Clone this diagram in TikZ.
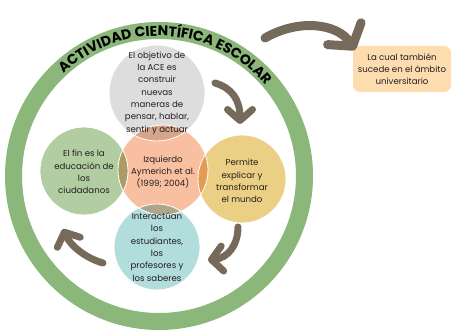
\documentclass[tikz,border=0pt]{standalone}
\usepackage{fontspec}
\setmainfont{Poppins}
\usetikzlibrary{arrows.meta,decorations.text}

\definecolor{ringgreen}{RGB}{139,183,122}
\definecolor{arrowbrown}{RGB}{118,106,90}
\definecolor{goalgray}{RGB}{221,221,221}
\definecolor{coresalmon}{RGB}{248,192,160}
\definecolor{endgreen}{RGB}{178,205,162}
\definecolor{worldyellow}{RGB}{235,207,133}
\definecolor{peopleblue}{RGB}{178,221,221}
\definecolor{notepeach}{RGB}{253,221,176}
\definecolor{txt}{RGB}{35,31,32}

\begin{document}
\begin{tikzpicture}[
  x=1pt,y=1pt,
  bubbletext/.style={inner sep=0pt,align=center,text=txt,
    font=\fontsize{8.6}{12.3}\selectfont},
  turn/.style={line width=7pt,line cap=round,draw=arrowbrown,
    -{Straight Barb[round,length=11pt,width=25pt]}},
  every path/.style={semithick}
]
\useasboundingbox (0,0) rectangle (455,336);
\coordinate (C) at (159,160);
\draw[ringgreen,line width=17pt] (C) circle[radius=145.5];
\path[decorate,decoration={text along path,text align=center,
    text={|\fontsize{14}{14}\bfseries\selectfont|ACTIVIDAD CIENTÍFICA ESCOLAR}}]
  (C) ++(150:140) arc[start angle=150,end angle=23.5,radius=140];

\coordinate (goal) at (157,243);
\coordinate (core) at (163,166);
\coordinate (aim) at (84,165);
\coordinate (world) at (242,157);
\coordinate (people) at (157,89);
\begin{scope}[blend group=multiply]
  \fill[goalgray] (goal) circle[radius=48];
  \fill[coresalmon] (core) circle[radius=45];
  \fill[endgreen] (aim) circle[radius=44];
  \fill[worldyellow] (world) circle[radius=44];
  \fill[peopleblue] (people) circle[radius=43];
\end{scope}
\foreach \n/\r in {goal/48,core/45,aim/44,world/44,people/43}
  \draw[white,line width=0.8pt] (\n) circle[radius=\r];

\node[bubbletext] (goaltext) at (goal)
  {El objetivo de\\la ACE es\\construir\\nuevas\\maneras de\\pensar, hablar,\\sentir y actuar};
\node[bubbletext] (coretext) at ([yshift=-2pt]core)
  {Izquierdo\\Aymerich et al.\\(1999; 2004)};
\node[bubbletext] (aimtext) at ([yshift=-1pt]aim)
  {El fin es la\\educación de\\los\\ciudadanos};
\node[bubbletext] (worldtext) at ([yshift=-2pt]world)
  {Permite\\explicar y\\transformar\\el mundo};
\node[bubbletext] (peopletext) at (people)
  {Interactúan\\los\\estudiantes,\\los\\profesores y\\los saberes};

\node[fill=notepeach,rounded corners=7pt,minimum width=98pt,minimum height=46pt,
  align=center,text=txt,font=\fontsize{8.6}{12.3}\selectfont] (note) at (402,267)
  {La cual también\\sucede en el ámbito\\universitario};

\coordinate (s0) at (265,298);
\coordinate (t0) at (355,286);
\draw[turn,line width=9pt,-{Straight Barb[round,length=15pt,width=40pt]}]
  (s0) .. controls (300,318) and (338,312) .. (t0);
\coordinate (s1) at (215,253);
\coordinate (t1) at (240,212);
\draw[turn] (s1) .. controls (232,248) and (240,236) .. (t1);
\coordinate (s2) at (238,109);
\coordinate (t2) at (208,76);
\draw[turn] (s2) .. controls (238,91) and (228,78) .. (t2);
\coordinate (s3) at (103,73);
\coordinate (t3) at (63,107);
\draw[turn] (s3) .. controls (85,78) and (70,91) .. (t3);
\end{tikzpicture}
\end{document}
